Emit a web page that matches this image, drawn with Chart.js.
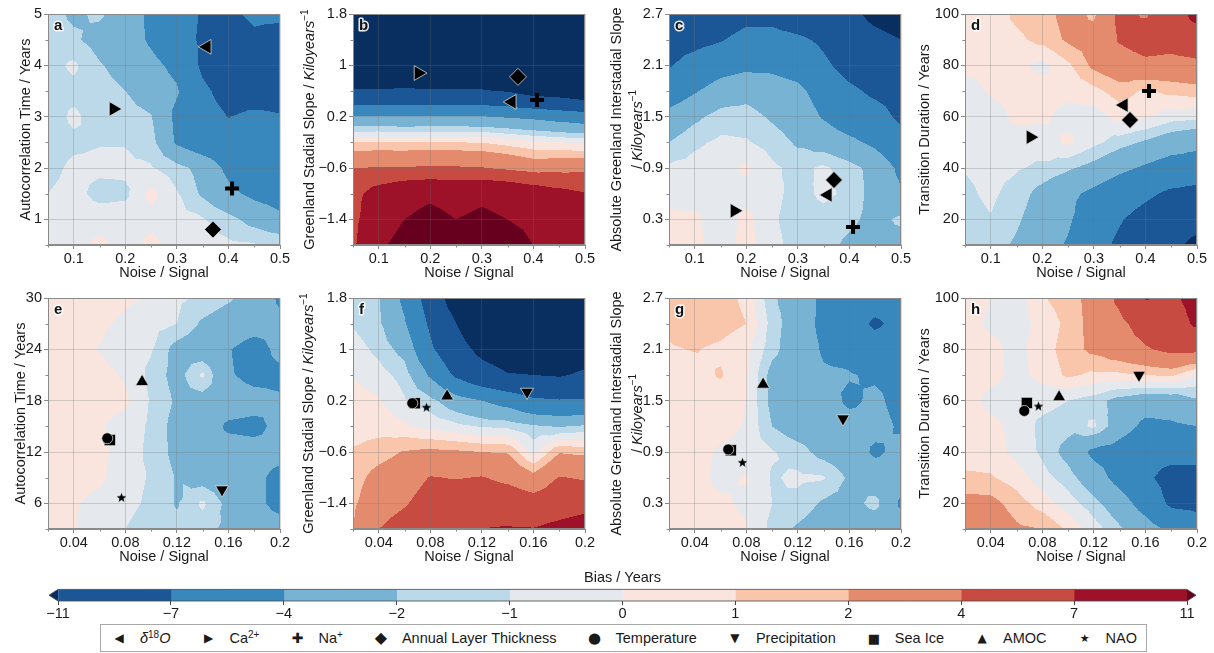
<!DOCTYPE html>
<html>
<head>
<meta charset="utf-8">
<script src="https://cdn.jsdelivr.net/npm/chart.js"></script>
<style>
  body { margin: 0; width: 1214px; height: 653px; position: relative; overflow: hidden; background: #fff;
         font-family: "Liberation Sans", Arial, Helvetica, sans-serif; }
  .panel { position: absolute; }
  #legend { position: absolute; left: 100px; top: 624px; width: 1047px; height: 28px; box-sizing: border-box;
            border: 1px solid #a8a8a8; background: #fff; display: flex; align-items: center;
            justify-content: space-between; padding: 0 9px 0 11px; font-size: 14.5px; color: #1a1a1a; }
  #legend .it { display: flex; align-items: center; white-space: nowrap; }
  #legend .mk { font-family: "DejaVu Sans", sans-serif; width: 14px; text-align: center; margin-right: 14px; line-height: 1; }
  #legend sup { font-size: 10px; line-height: 0; vertical-align: 5px; }
</style>
</head>
<body>
<div id="legend">
  <span class="it"><span class="mk" style="font-size:12px">&#9664;</span><span><i>&delta;</i><sup>18</sup><i>O</i></span></span>
  <span class="it"><span class="mk" style="font-size:12px">&#9654;</span><span>Ca<sup>2+</sup></span></span>
  <span class="it"><span class="mk" style="font-size:14px">&#10010;</span><span>Na<sup>+</sup></span></span>
  <span class="it"><span class="mk" style="font-size:16px">&#9670;</span><span>Annual Layer Thickness</span></span>
  <span class="it"><span class="mk" style="font-size:15px">&#9679;</span><span>Temperature</span></span>
  <span class="it"><span class="mk" style="font-size:12px">&#9660;</span><span>Precipitation</span></span>
  <span class="it"><span class="mk" style="font-size:13px">&#9632;</span><span>Sea Ice</span></span>
  <span class="it"><span class="mk" style="font-size:12px">&#9650;</span><span>AMOC</span></span>
  <span class="it"><span class="mk" style="font-size:11px">&#9733;</span><span>NAO</span></span>
</div>
<script>
// colour levels (Bias / Years)
const levels = [-11, -7, -4, -2, -1, 0, 1, 2, 4, 7, 11];
const levelColors = ['#1b5797', '#3888be', '#78b3d4', '#bcd9ea', '#e5e9ed',
                     '#f9e5de', '#f9c5ab', '#e48b6e', '#c84b42', '#9d1129'];
const underColor = '#082f5f';
const overColor = '#67001f';

// grid axes (rows of the bias grids run from top to bottom)
const noiseProxy = [0.05, 0.1, 0.15, 0.2, 0.25, 0.3, 0.35, 0.4, 0.45, 0.5];
const noiseModel = [0.02, 0.04, 0.06, 0.08, 0.1, 0.12, 0.14, 0.16, 0.18, 0.2];
const autocorrProxy = [5, 4.5, 4, 3.5, 3, 2.5, 2, 1.5, 1, 0.5];
const autocorrModel = [30, 27, 24, 21, 18, 15, 12, 9, 6, 3];
const stadialSlope = [1.8, 1.4, 1, 0.6, 0.2, -0.2, -0.6, -1, -1.4, -1.8];
const interstadialSlope = [2.7, 2.4, 2.1, 1.8, 1.5, 1.2, 0.9, 0.6, 0.3, 0];
const transitionDuration = [100, 90, 80, 70, 60, 50, 40, 30, 20, 10];

// tick labels
const noiseTicksProxy = [0.1, 0.2, 0.3, 0.4, 0.5];
const noiseTicksModel = [0.04, 0.08, 0.12, 0.16, 0.2];
const autocorrTicksProxy = [1, 2, 3, 4, 5];
const autocorrTicksModel = [6, 12, 18, 24, 30];
const stadialTicks = [-1.4, -0.6, 0.2, 1, 1.8];
const interstadialTicks = [0.3, 0.9, 1.5, 2.1, 2.7];
const transitionTicks = [20, 40, 60, 80, 100];

// bias grids
const biasProxyAutocorr = [
  [-1.6, -2.2, -1.8, -2.8, -4.5, -5.5, -7.3, -7.5, -6.5, -6.5],
  [-1.5, -1.8, -2.5, -3.0, -4.3, -5.5, -7.5, -8.5, -7.5, -8.0],
  [-1.4, -0.8, -1.9, -2.5, -3.5, -4.5, -7.5, -9.0, -9.5, -8.5],
  [-1.5, -1.3, -1.6, -2.0, -3.0, -3.8, -6.5, -8.0, -8.5, -8.0],
  [-1.5, -0.8, -1.5, -1.4, -1.9, -4.5, -6.0, -7.05, -6.5, -6.8],
  [-1.5, -1.2, -1.05, -1.05, -1.5, -4.3, -5.5, -6.0, -6.5, -6.5],
  [-1.3, -0.8, -0.8, -0.8, -0.9, -1.5, -2.5, -4.5, -5.5, -6.0],
  [-1.0, -0.7, -1.3, -1.2, 0.3, -0.9, -2.2, -3.5, -4.5, -5.0],
  [-0.5, -0.5, -0.5, -0.5, -0.3, -0.6, -0.9, -1.6, -2.5, -3.5],
  [-0.5, -0.5, 0.3, -0.5, 0.3, -0.5, -0.6, -0.8, -0.9, -0.9]
];
const biasProxyStadial = [
  [-18, -18, -18, -18, -18, -18, -18, -18, -18, -18],
  [-17, -17, -17, -17, -17, -17, -17, -17, -17, -17],
  [-14, -14, -14, -14, -14, -14, -14.5, -16, -16, -16],
  [-10.8, -10.8, -10.6, -10.8, -10.7, -10.8, -11.2, -12.5, -13, -14],
  [-3.8, -3.8, -3.9, -3.8, -3.8, -3.9, -4.2, -4.5, -5, -5.5],
  [1.0, 1.05, 1.0, 1.0, 1.0, 0.95, 0.6, 0.2, 0, -0.1],
  [4, 4.1, 4.1, 4.3, 4.2, 4.1, 3.6, 3, 3.2, 3.3],
  [6, 8.5, 10, 10.5, 10, 10.5, 10, 9, 8, 7.2],
  [6.2, 9.5, 11, 11.8, 11, 11.5, 11, 10, 9, 8.8],
  [6.5, 10.5, 12, 13, 13, 13, 13, 11, 10, 10]
];
const biasProxyInterstadial = [
  [-8.5, -11.2, -9, -8, -8, -9, -9.5, -10, -12, -13],
  [-8, -7.8, -7.2, -6, -6, -6.5, -7.5, -9, -10, -11],
  [-7.2, -6, -5, -4.5, -4.5, -5, -6.5, -8, -9, -9.5],
  [-5.5, -4.2, -3, -2.5, -3, -3.5, -5, -6.5, -7.5, -8],
  [-3.2, -2.3, -1.5, -1.5, -2.2, -2.8, -4.2, -5.5, -6, -7.5],
  [-2.0, -1.2, -0.8, -0.9, -1.4, -2.2, -2.7, -3.5, -4.5, -6],
  [-0.8, -0.6, -0.4, 0.2, -0.8, -1.3, -0.8, -1.5, -2.5, -4.5],
  [-0.5, -0.4, -0.5, -0.4, -0.6, -1.5, -0.7, -1.3, -2.5, -3.8],
  [0.3, 0.2, -0.5, 0.3, -0.8, -1.6, -1.5, -1.8, -2.3, -1.8],
  [0.4, 0.3, -0.6, 0.4, -0.6, -1.5, -1.7, -2.2, -2.5, -2.5]
];
const biasProxyTransition = [
  [0.5, 0.5, 1.2, 1.5, 2.5, 1.8, 4.5, 3.8, 5.5, 8],
  [0.5, 0.6, 0.8, 1.3, 2.2, 2.5, 4.2, 5, 5, 5.5],
  [0.6, 0.4, 0.3, -0.3, 0.8, 2.3, 3, 3.5, 3.2, 3.5],
  [-0.8, 0.2, 0.4, 0.5, 0.3, 0.7, 1.5, 0.8, 1.3, 1.5],
  [-0.7, -0.6, 0.3, 0.2, -0.4, -0.5, 0.4, 0.2, -0.5, -0.7],
  [-0.8, -0.7, -0.6, -0.5, 0.2, -0.7, -1.5, -2.2, -3, -3.5],
  [-0.95, -0.7, -0.9, -1.2, -1.8, -2.5, -3.5, -4.3, -5, -5],
  [-1.2, -0.8, -1.4, -2.5, -3.5, -4.5, -5.5, -6.5, -7.5, -8],
  [-1.4, -1.05, -1.8, -2.8, -3.7, -5.5, -6.8, -8, -9, -9.5],
  [-1.2, -1.5, -2.2, -3.2, -4.2, -6, -7.5, -8.5, -10, -12]
];
const biasModelAutocorr = [
  [0.5, 0.5, 0.4, 0.2, -0.08, -0.8, -1.2, -1.8, -2.6, -4.3],
  [0.5, 0.4, 0.2, -0.2, -0.6, -1.0, -2.2, -2.8, -3.2, -3.6],
  [0.5, 0.3, -0.05, -0.5, -0.9, -2.5, -3, -3.9, -4.8, -3.5],
  [0.5, 0.4, 0.3, -0.1, -1.3, -2.5, -0.8, -3.8, -4.6, -4.4],
  [0.5, 0.5, 0.4, 0.2, -1.1, -2.2, -2.6, -3, -3.3, -3.8],
  [0.5, 0.5, 0.1, -0.4, -1.2, -2.5, -3, -4.3, -4.5, -3.5],
  [0.5, 0.5, 0.2, -0.3, -1.3, -2.4, -3, -3.2, -3.3, -3.5],
  [0.5, 0.4, 0.2, -0.6, -1.1, -2.1, -2.6, -3, -3.6, -4.5],
  [0.5, 0.1, -0.3, -0.7, -1.2, -2.1, -0.8, -2.4, -3.5, -4.6],
  [0.5, 0.05, -0.5, -1.0, -1.5, -1.7, -1.6, -2.3, -3, -3.2]
];
const biasModelStadial = [
  [-1.5, -1.9, -4.5, -8.5, -13, -15, -15, -15, -15, -15],
  [-1.1, -1.8, -3.8, -7.5, -11, -14, -15, -15, -15, -15],
  [-0.5, -1.3, -2.5, -6.5, -9.5, -12, -13, -13.5, -13, -13],
  [-0.1, -0.6, -1.4, -4.3, -7.5, -9.5, -10.8, -11, -11.3, -10.5],
  [0.5, 0.1, -0.9, -1.6, -3, -4, -5, -6.5, -6.8, -6.8],
  [0.6, 0.6, 0.2, -0.3, -0.7, -1.1, -1.2, -1.8, -2.1, -1.8],
  [1.1, 1.5, 2.1, 2.3, 2.2, 2, 1.9, -0.3, 1.9, 1.7],
  [1.5, 2.5, 3, 4.1, 3.9, 4.1, 3.5, 2.5, 4.1, 3.8],
  [1.8, 3, 3.8, 5, 5.5, 5.5, 5.5, 5, 5.5, 6],
  [2.0, 4, 5, 5.5, 6, 7.05, 7.2, 7.1, 7.8, 8.5]
];
const biasModelInterstadial = [
  [1.3, 1.5, 1.4, 0.8, -1.8, -2.8, -4.5, -5, -5.5, -5],
  [1.2, 1.6, 1.4, 1.0, -1.4, -3, -4.5, -5.5, -7.5, -6],
  [0.9, 1.05, 0.8, 0.3, -1.6, -3, -4.2, -4.5, -5.5, -5],
  [0.5, 0.6, 1.1, 0.2, -2.5, -3, -3.8, -3.9, -4.2, -4.5],
  [0.5, 0.5, 0.5, 0, -2.4, -2.8, -3.3, -4.3, -3.7, -4.5],
  [0.5, 0.5, 0.5, -0.1, -2, -2.8, -3, -3.4, -3.5, -4.2],
  [0.5, 0.5, -0.2, -0.5, -0.9, -1.5, -2.5, -3, -4.3, -3.5],
  [0.5, 0.4, -0.3, 0.1, -1.1, -0.8, -0.9, -2.2, -3, -3.2],
  [0.5, 0.5, 0.2, -0.2, -1.0, -1.3, -2.2, -2.5, -1.6, -4.3],
  [0.5, 0.5, 0.4, 0.1, -1.3, -2.2, -2.8, -3, -3, -3.2]
];
const biasModelTransition = [
  [0.5, 0, -0.5, 0.9, 1.5, 2.5, 4.5, 7.2, 6.5, 8],
  [0.5, -0.2, -0.4, 0.3, 1.3, 2.5, 3.5, 5, 5.5, 7.5],
  [0.5, 0.3, -0.3, 0.5, 1.5, 2.3, 3, 3.8, 4.5, 4.5],
  [0.5, 0.3, -0.3, 0.3, 1.2, 0.8, 0.8, 1.0, 1.2, -0.05],
  [0.5, -0.3, -0.5, -0.6, -1, -1.5, -2.5, -3, -3, -2.2],
  [0.5, 0.3, -0.3, -1.3, -1.6, -0.8, -3, -4.5, -4.3, -4],
  [0.5, 0.5, -0.3, -1.2, -2.5, -4.5, -5, -6, -6, -6.5],
  [1.2, 1.1, 0.5, -0.6, -1.5, -3, -4.8, -6.5, -8, -7.5],
  [2.5, 2.4, 1.5, 0.5, -0.5, -1.6, -3, -5, -7.5, -7.8],
  [3, 3, 2.2, 2.0, 0.8, -0.5, -1.8, -3, -4.5, -5.5]
];

// ice core proxies (top row)
const proxyNames = ['δ18O', 'Ca2+', 'Na+', 'Annual Layer Thickness'];
const proxyNoise = [0.358, 0.177, 0.407, 0.37];
const proxyAutocorr = [4.36, 3.15, 1.6, 0.8];
const proxyStadial = [0.43, 0.88, 0.46, 0.82];
const proxyInterstadial = [0.585, 0.40, 0.21, 0.76];
const proxyTransition = [64.5, 52, 70, 58.7];

// model variables (bottom row)
const modelNames = ['Temperature', 'Precipitation', 'Sea Ice', 'AMOC', 'NAO'];
const modelNoise = [0.066, 0.155, 0.068, 0.093, 0.077];
const modelAutocorr = [13.6, 7.6, 13.4, 20.2, 6.7];
const modelStadial = [0.16, 0.335, 0.16, 0.27, 0.1];
const modelInterstadial = [0.93, 1.29, 0.92, 1.69, 0.78];
const modelTransition = [56, 70, 59.1, 61.4, 57.9];

const fontFamily = '"Liberation Sans", Arial, Helvetica, sans-serif';
const textColor = '#1a1a1a';
const axisGray = '#8a8a8a';
Chart.defaults.font.family = fontFamily;
Chart.defaults.font.size = 14.5;
Chart.defaults.color = textColor;

function starImage(size) {
  const c = document.createElement('canvas');
  c.width = c.height = size;
  const g = c.getContext('2d');
  const r = size / 2 - 0.5;
  g.beginPath();
  for (let k = 0; k < 10; k++) {
    const ang = -Math.PI / 2 + k * Math.PI / 5;
    const rr = k % 2 ? r * 0.42 : r;
    g.lineTo(size / 2 + rr * Math.cos(ang), size / 2 + 0.5 + rr * Math.sin(ang));
  }
  g.closePath();
  g.fillStyle = '#000';
  g.fill();
  return c;
}

const proxyStyles = [
  { pointStyle: 'triangle', rotation: -90, radius: 8.5 },
  { pointStyle: 'triangle', rotation: 90, radius: 8.5 },
  { pointStyle: 'cross', rotation: 0, radius: 7, line: 4 },
  { pointStyle: 'rectRot', rotation: 0, radius: 8.5 }
];
const modelStyles = [
  { pointStyle: 'circle', rotation: 0, radius: 5.5 },
  { pointStyle: 'triangle', rotation: 180, radius: 7.5 },
  { pointStyle: 'rect', rotation: 0, radius: 8 },
  { pointStyle: 'triangle', rotation: 0, radius: 7.5 },
  { pointStyle: starImage(11), rotation: 0, radius: 5 }
];

function hexRgb(h) {
  return [parseInt(h.slice(1, 3), 16), parseInt(h.slice(3, 5), 16), parseInt(h.slice(5, 7), 16)];
}
const binRgb = levelColors.map(hexRgb);
const underRgb = hexRgb(underColor), overRgb = hexRgb(overColor);

function colourFor(v) {
  if (v < levels[0]) return underRgb;
  if (v >= levels[levels.length - 1]) return overRgb;
  for (let k = 0; k < levels.length - 1; k++) {
    if (v < levels[k + 1]) return binRgb[k];
  }
  return overRgb;
}

// piecewise linear value inside the grid (each cell split in 4 triangles)
function sampleGrid(grid, xs, ys, xv, yv) {
  const nx = xs.length, ny = ys.length;
  let fx = (xv - xs[0]) / (xs[nx - 1] - xs[0]) * (nx - 1);
  let fy = (ys[0] - yv) / (ys[0] - ys[ny - 1]) * (ny - 1);
  fx = Math.min(Math.max(fx, 0), nx - 1);
  fy = Math.min(Math.max(fy, 0), ny - 1);
  const i = Math.min(Math.floor(fx), nx - 2), j = Math.min(Math.floor(fy), ny - 2);
  const u = fx - i, v = fy - j;
  const a = grid[j][i], b = grid[j][i + 1], c = grid[j + 1][i], d = grid[j + 1][i + 1];
  const m = (a + b + c + d) / 4;
  if (v <= u && v <= 1 - u) return a * (1 - u - v) + b * (u - v) + m * 2 * v;
  if (u >= v && u >= 1 - v) { const w = 1 - u; return b * (1 - v - w) + d * (v - w) + m * 2 * w; }
  if (v >= u && v >= 1 - u) { const w = 1 - v; return c * (1 - u - w) + d * (u - w) + m * 2 * w; }
  return a * (1 - v - u) + c * (v - u) + m * 2 * u;
}

function contourLayer(p) {
  let cache = null;
  return {
    id: 'contour',
    beforeDraw(chart) {
      const a = chart.chartArea, sx = chart.scales.x, sy = chart.scales.y;
      if (!cache) {
        const w = Math.round(a.right - a.left), h = Math.round(a.bottom - a.top);
        cache = document.createElement('canvas');
        cache.width = w; cache.height = h;
        const g = cache.getContext('2d');
        const img = g.createImageData(w, h);
        for (let py = 0; py < h; py++) {
          const yv = sy.getValueForPixel(a.top + py + 0.5);
          for (let px = 0; px < w; px++) {
            const xv = sx.getValueForPixel(a.left + px + 0.5);
            const rgb = colourFor(sampleGrid(p.grid, p.xs, p.ys, xv, yv));
            const o = (py * w + px) * 4;
            img.data[o] = rgb[0]; img.data[o + 1] = rgb[1]; img.data[o + 2] = rgb[2]; img.data[o + 3] = 255;
          }
        }
        g.putImageData(img, 0, 0);
      }
      chart.ctx.drawImage(cache, a.left, a.top);
    }
  };
}

function minorValues(ticks, min, max) {
  const step = ticks[1] - ticks[0];
  return ticks.map(t => t - step / 2).filter(v => v >= min - 1e-9 && v <= max + 1e-9);
}

function drawRotatedRich(ctx, segs, cx, cy) {
  ctx.save();
  ctx.translate(cx, cy);
  ctx.rotate(-Math.PI / 2);
  ctx.textBaseline = 'middle';
  ctx.textAlign = 'left';
  ctx.fillStyle = textColor;
  const fonts = segs.map(s => (s.it ? 'italic ' : '') + (s.sup ? '10px ' : '14.5px ') + fontFamily);
  const widths = segs.map((s, k) => { ctx.font = fonts[k]; return ctx.measureText(s.t).width; });
  let x = -widths.reduce((m, w) => m + w, 0) / 2;
  segs.forEach((s, k) => {
    ctx.font = fonts[k];
    ctx.fillText(s.t, x, s.sup ? -5 : 0);
    x += widths[k];
  });
  ctx.restore();
}

function decoLayer(p) {
  return {
    id: 'deco',
    afterDraw(chart) {
      const { ctx, chartArea: a } = chart;
      const sx = chart.scales.x, sy = chart.scales.y;
      ctx.save();
      ctx.strokeStyle = axisGray;
      ctx.lineWidth = 1;
      ctx.beginPath();
      minorValues(p.xTicks, sx.min, sx.max).forEach(v => {
        const px = Math.round(sx.getPixelForValue(v)) + 0.5;
        ctx.moveTo(px, a.bottom); ctx.lineTo(px, a.bottom + 2.5);
      });
      minorValues(p.yTicks, sy.min, sy.max).forEach(v => {
        const py = Math.round(sy.getPixelForValue(v)) + 0.5;
        ctx.moveTo(a.left, py); ctx.lineTo(a.left - 2.5, py);
      });
      ctx.stroke();
      ctx.strokeRect(a.left + 0.5, a.top + 0.5, a.right - a.left - 1, a.bottom - a.top - 1);
      ctx.font = 'bold 15px ' + fontFamily;
      ctx.textBaseline = 'alphabetic';
      ctx.lineJoin = 'round';
      ctx.lineWidth = 3;
      ctx.strokeStyle = 'rgba(255,255,255,0.9)';
      ctx.strokeText(p.letter, a.left + 6, a.top + 16);
      ctx.fillStyle = '#111';
      ctx.fillText(p.letter, a.left + 6, a.top + 16);
      p.title.forEach((segs, k) => drawRotatedRich(ctx, segs, a.left + p.titleX[k], (a.top + a.bottom) / 2));
      ctx.restore();
    }
  };
}

const fmt = v => (v < 0 ? '\u2212' : '') + String(Math.abs(v));
const kiloTitle = [{ t: 'Kiloyears', it: 1 }, { t: '\u22121', sup: 1 }];

const panels = [
  { letter: 'a', left: 48, top: 14, xs: noiseProxy, xTicks: noiseTicksProxy, ys: autocorrProxy, yTicks: autocorrTicksProxy,
    grid: biasProxyAutocorr, kind: 'proxy', markY: proxyAutocorr,
    title: [[{ t: 'Autocorrelation Time / Years' }]], titleX: [-22] },
  { letter: 'b', left: 353, top: 14, xs: noiseProxy, xTicks: noiseTicksProxy, ys: stadialSlope, yTicks: stadialTicks,
    grid: biasProxyStadial, kind: 'proxy', markY: proxyStadial,
    title: [[{ t: 'Greenland Stadial Slope / ' }].concat(kiloTitle)], titleX: [-43] },
  { letter: 'c', left: 669, top: 14, xs: noiseProxy, xTicks: noiseTicksProxy, ys: interstadialSlope, yTicks: interstadialTicks,
    grid: biasProxyInterstadial, kind: 'proxy', markY: proxyInterstadial,
    title: [[{ t: 'Absolute Greenland Interstadial Slope' }], [{ t: '/ ' }].concat(kiloTitle)], titleX: [-52, -31] },
  { letter: 'd', left: 965, top: 14, xs: noiseProxy, xTicks: noiseTicksProxy, ys: transitionDuration, yTicks: transitionTicks,
    grid: biasProxyTransition, kind: 'proxy', markY: proxyTransition,
    title: [[{ t: 'Transition Duration / Years' }]], titleX: [-40] },
  { letter: 'e', left: 48, top: 298, xs: noiseModel, xTicks: noiseTicksModel, ys: autocorrModel, yTicks: autocorrTicksModel,
    grid: biasModelAutocorr, kind: 'model', markY: modelAutocorr,
    title: [[{ t: 'Autocorrelation Time / Years' }]], titleX: [-27] },
  { letter: 'f', left: 353, top: 298, xs: noiseModel, xTicks: noiseTicksModel, ys: stadialSlope, yTicks: stadialTicks,
    grid: biasModelStadial, kind: 'model', markY: modelStadial,
    title: [[{ t: 'Greenland Stadial Slope / ' }].concat(kiloTitle)], titleX: [-44] },
  { letter: 'g', left: 669, top: 298, xs: noiseModel, xTicks: noiseTicksModel, ys: interstadialSlope, yTicks: interstadialTicks,
    grid: biasModelInterstadial, kind: 'model', markY: modelInterstadial,
    title: [[{ t: 'Absolute Greenland Interstadial Slope' }], [{ t: '/ ' }].concat(kiloTitle)], titleX: [-52, -31] },
  { letter: 'h', left: 965, top: 298, xs: noiseModel, xTicks: noiseTicksModel, ys: transitionDuration, yTicks: transitionTicks,
    grid: biasModelTransition, kind: 'model', markY: modelTransition,
    title: [[{ t: 'Transition Duration / Years' }]], titleX: [-40] }
];

function buildPanel(p) {
  const wrap = document.createElement('div');
  wrap.className = 'panel';
  wrap.style.left = (p.left - 60) + 'px';
  wrap.style.top = (p.top - 16) + 'px';
  const cv = document.createElement('canvas');
  cv.width = 308; cv.height = 293;
  wrap.appendChild(cv);
  document.body.appendChild(wrap);

  const names = p.kind === 'proxy' ? proxyNames : modelNames;
  const noise = p.kind === 'proxy' ? proxyNoise : modelNoise;
  const styles = p.kind === 'proxy' ? proxyStyles : modelStyles;
  const datasets = names.map((name, k) => ({
    label: name,
    data: [{ x: noise[k], y: p.markY[k] }],
    pointStyle: styles[k].pointStyle,
    pointRotation: styles[k].rotation,
    pointRadius: styles[k].radius,
    pointBackgroundColor: '#000',
    pointBorderColor: styles[k].line ? '#000' : 'rgba(235,235,235,0.9)',
    pointBorderWidth: styles[k].line || 0.8
  }));

  const yVals = p.ys.slice().sort((m, n) => m - n);
  const gridOpts = { color: 'rgba(110,110,110,0.28)', lineWidth: 1, tickLength: 4, tickColor: axisGray, drawTicks: true };
  return new Chart(cv, {
    type: 'scatter',
    data: { datasets },
    options: {
      responsive: false,
      animation: false,
      events: [],
      layout: { padding: { left: 0, top: 16, right: 16, bottom: 0 } },
      plugins: { legend: { display: false }, tooltip: { enabled: false } },
      scales: {
        x: {
          type: 'linear', min: p.xs[0], max: p.xs[p.xs.length - 1],
          afterBuildTicks: s => { s.ticks = p.xTicks.map(v => ({ value: v })); },
          afterFit: s => { s.height = 46; },
          ticks: { autoSkip: false, maxRotation: 0, padding: 1, callback: v => fmt(v) },
          grid: gridOpts,
          border: { display: true, color: axisGray, width: 1 },
          title: { display: true, text: 'Noise / Signal', font: { size: 14.5 }, padding: { top: 0, bottom: 9 } }
        },
        y: {
          type: 'linear', min: yVals[0], max: yVals[yVals.length - 1],
          afterBuildTicks: s => { s.ticks = p.yTicks.map(v => ({ value: v })); },
          afterFit: s => { s.width = 60; },
          ticks: { autoSkip: false, padding: 2, callback: v => fmt(v) },
          grid: gridOpts,
          border: { display: true, color: axisGray, width: 1 }
        }
      }
    },
    plugins: [contourLayer(p), decoLayer(p)]
  });
}

panels.forEach(buildPanel);

// colour bar
const cbarEnds = {
  id: 'cbarEnds',
  afterDatasetsDraw(chart) {
    const { ctx, chartArea: a } = chart;
    const sx = chart.scales.x;
    const x0 = sx.getPixelForValue(0), x1 = sx.getPixelForValue(levels.length - 1);
    const t = a.top, b = a.bottom, m = (t + b) / 2, tip = 9;
    ctx.save();
    ctx.fillStyle = underColor;
    ctx.beginPath(); ctx.moveTo(x0, t); ctx.lineTo(x0 - tip, m); ctx.lineTo(x0, b); ctx.closePath(); ctx.fill();
    ctx.fillStyle = overColor;
    ctx.beginPath(); ctx.moveTo(x1, t); ctx.lineTo(x1 + tip, m); ctx.lineTo(x1, b); ctx.closePath(); ctx.fill();
    ctx.strokeStyle = '#444';
    ctx.lineWidth = 0.8;
    ctx.beginPath();
    ctx.moveTo(x0, t); ctx.lineTo(x1, t); ctx.lineTo(x1 + tip, m); ctx.lineTo(x1, b);
    ctx.lineTo(x0, b); ctx.lineTo(x0 - tip, m); ctx.closePath();
    ctx.stroke();
    ctx.restore();
  }
};

(function buildColourBar() {
  const wrap = document.createElement('div');
  wrap.className = 'panel';
  wrap.style.left = '30px';
  wrap.style.top = '569px';
  const cv = document.createElement('canvas');
  cv.width = 1180; cv.height = 56;
  wrap.appendChild(cv);
  document.body.appendChild(wrap);
  new Chart(cv, {
    type: 'bar',
    data: {
      labels: ['Bias'],
      datasets: levelColors.map((c, k) => ({
        data: [[k, k + 1]], backgroundColor: c, borderWidth: 0,
        barPercentage: 1, categoryPercentage: 1, grouped: false
      }))
    },
    options: {
      indexAxis: 'y',
      responsive: false,
      animation: false,
      events: [],
      layout: { padding: { left: 28, right: 23, top: 0, bottom: 0 } },
      plugins: {
        legend: { display: false }, tooltip: { enabled: false },
        title: { display: true, text: 'Bias / Years', font: { size: 14.5, weight: 'normal' }, color: textColor,
                 padding: { top: 0, bottom: 3 } }
      },
      scales: {
        x: {
          type: 'linear', min: 0, max: levels.length - 1,
          afterBuildTicks: s => { s.ticks = levels.map((_, k) => ({ value: k })); },
          afterFit: s => { s.height = 24; },
          ticks: { autoSkip: false, maxRotation: 0, padding: 0, callback: (v, i) => fmt(levels[i]) },
          grid: { drawOnChartArea: false, drawTicks: true, tickLength: 4, color: '#444' },
          border: { display: false }
        },
        y: { type: 'category', display: false }
      }
    },
    plugins: [cbarEnds]
  });
})();
</script>
</body>
</html>
